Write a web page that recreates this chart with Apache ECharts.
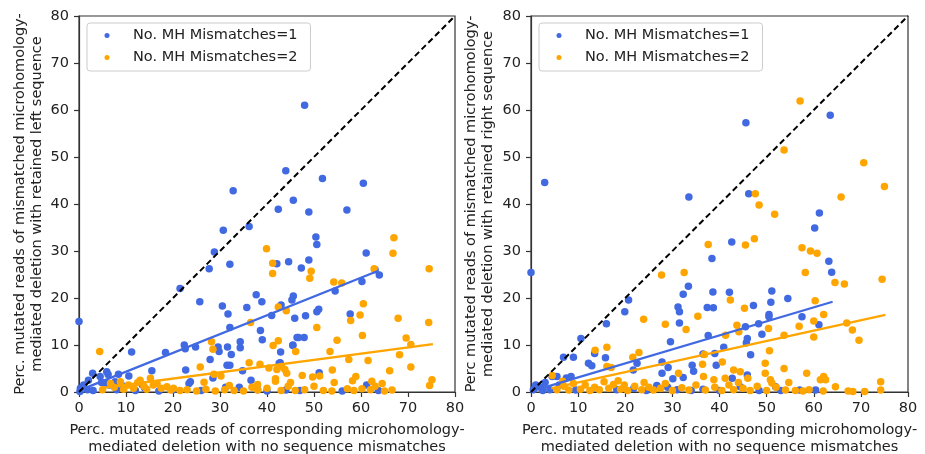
<!DOCTYPE html>
<html><head><meta charset="utf-8">
<script src="https://cdn.jsdelivr.net/npm/echarts@6/dist/echarts.min.js"></script>
<style>html,body{margin:0;padding:0;background:#fff}#c{width:925px;height:454px}</style>
</head><body><div id="c"></div>
<script>
const tickValues = [0, 10, 20, 30, 40, 50, 60, 70, 80];
const seriesNames = ['No. MH Mismatches=1', 'No. MH Mismatches=2'];
const xTitle = 'Perc. mutated reads of corresponding microhomology-\nmediated deletion with no sequence mismatches';
const yTitleLeft = 'Perc. mutated reads of mismatched microhomology-\nmediated deletion with retained left sequence';
const yTitleRight = 'Perc mutated reads of mismatched microhomology-\nmediated deletion with retained right sequence';

const leftBlue = [[0,15],[48,61],[44,47.1],[51.8,45.4],[60.5,44.4],[32.8,42.8],[45.6,40.8],[42.4,38.9],[57,38.7],[48.9,38.3],[30.7,34.4],[36.2,35.2],[50.4,33],[50.6,31.4],[28.8,29.8],[61.1,29.6],[27.7,26.2],[32.1,27.2],[42.1,27.3],[44.6,27.7],[47.3,26.4],[48.9,28.1],[21.5,22],[63.9,24.9],[63,26],[54.5,21.5],[60.2,23.5],[25.7,19.2],[37.7,20.7],[38.9,19.2],[30.5,18.3],[35.7,18],[31.7,16.6],[41,16.3],[43,18.5],[45.6,20.4],[45.3,19.6],[45.9,15.7],[48.2,16.2],[50.6,17.1],[51,17.6],[57.7,16.6],[38.6,13.1],[32.1,13.7],[39,11.1],[46.4,11.6],[47.9,11.6],[45.5,9.9],[42.9,8.5],[22.4,10],[22.6,9.2],[24.8,9.6],[18.4,8.4],[11.2,8.5],[29.6,9.6],[31.6,9.6],[29.8,8.6],[32.4,8],[34.3,10.7],[34.3,9.4],[27.9,6.9],[31.5,5.7],[32.1,5.7],[22.7,4.7],[34.8,4.5],[42.8,6.2],[42.6,6.1],[51.1,4.1],[15.5,4.5],[2.9,4],[5.9,4.3],[4.5,3.3],[6.2,3.7],[8.4,3.8],[10.6,3.4],[7.7,2.2],[5.6,1.9],[28.5,3],[36.6,2.5],[23.7,2.2],[23.4,1.8],[31.2,1],[34.1,1],[61.2,1.5],[63.7,0.3],[0.3,0.8],[1,1.5],[1.8,0.5],[3,0.3],[4.8,2],[6.5,1.5],[9.5,1.2],[8,0.5],[12,0.3],[14,0.8],[17,0.2],[20,0.5],[26,0.3],[38,0.5],[40,0.2],[44,0.4],[47,0.3],[56,0.2],[0.2,0.1],[2,2.5],[13.5,1.5],[45.5,10],[46.7,11.6]];
const leftOrange = [[4.4,8.6],[39.9,30.5],[41.2,27.4],[41.2,25.2],[67,32.8],[66.8,29.5],[74.5,26.2],[62.8,26.2],[49.4,25.7],[49.1,24.2],[54.2,23.4],[55.9,23.2],[42.4,18.1],[44.1,17.3],[60.5,18.8],[59.8,16.4],[67.9,15.7],[74.4,14.8],[57.8,15.2],[36.5,14.8],[50.6,13.7],[60.3,12],[54.9,11],[69.6,11.5],[70.6,10.1],[28.2,10.7],[28.5,9.1],[42.4,10.9],[41.3,9.9],[46.1,8.6],[53.4,8.6],[68.2,7.9],[57.4,6.9],[61.5,6.7],[36.2,6.2],[38.5,5.9],[25.8,5.3],[40.4,5.1],[42.1,4.8],[43.1,5.4],[43.8,4.8],[44.2,4],[53.9,4.7],[66.1,4.5],[70.6,5.3],[47.5,3.5],[49.7,3.2],[51.2,3.4],[58.2,2.4],[58.9,3.3],[62.3,2.3],[75.1,2.6],[74.6,1.4],[64.5,1.8],[66.6,0.4],[41.8,2.8],[41.8,2.3],[28.7,3.8],[30.2,3.4],[26.6,2.1],[54.3,2],[57.1,0.7],[60.2,0.7],[5,0.5],[6.7,1.8],[7.5,1],[8.8,2.2],[9.5,0.6],[10.5,1.5],[11.6,0.8],[12.5,2],[13,2.5],[13.8,1.2],[14.4,0.6],[15.2,2.9],[15.8,1.5],[16.6,1.8],[17.5,0.8],[18.7,1.1],[19.5,0.4],[20.1,0.8],[21.5,0.3],[23,0.5],[25,0.2],[27,0.6],[29,0.2],[31,0.5],[33,0.3],[35,0.2],[36.8,1],[38,0.4],[40,0.8],[43,0.3],[44.5,1.2],[46,0.3],[48,0.5],[50,1.2],[52,0.3],[53.8,0.2],[58.5,0.3],[62,0.5],[63,1.2],[65,0.2],[45,2],[38,1.6],[32,1.4]];
const leftFitBlue = [[0.2, 0.4], [63.7, 25.8]];
const leftFitOrange = [[4.5, 0.8], [75.3, 10.2]];

const rightBlue = [[0,25.4],[2.9,44.6],[45.6,57.3],[63.5,58.9],[33.5,41.5],[46.2,42.2],[61.2,38.1],[60.2,34.9],[42.6,31.9],[38.4,28.4],[63.2,27.8],[63.8,25.5],[33.4,22.5],[32.3,20.8],[20.7,19.6],[19.9,17.1],[38.6,21.3],[42.1,21.2],[51.1,21.5],[54.5,19.9],[50.9,19.1],[31.2,18.1],[31.5,17.1],[37.4,18],[38.7,17.9],[47.2,18.4],[50.5,16.5],[50.5,16],[57.5,16],[48.3,14.5],[45.5,13.9],[61.1,14.3],[16,14.5],[31.5,14.7],[49,12.3],[37.6,12],[45.9,11.4],[45.7,10.5],[29.6,10.7],[10.6,11.4],[6.9,7.4],[9,7.4],[12.2,6.1],[12.9,5.6],[13.5,8.2],[15.8,7.3],[22.5,6.1],[21.7,4.7],[27.8,6.4],[29.1,5.2],[34.2,5.7],[34.5,4.4],[36.5,8.1],[39,8.2],[39.3,5.7],[40.9,9.5],[46.6,7.9],[45.9,3.6],[42.7,2.9],[27.8,4],[30.1,2.8],[32.3,3.1],[26.7,1.4],[51.9,1.1],[60.4,0.4],[57,0.4],[44.4,1.1],[48.4,0.3],[0.5,0.5],[1,1.5],[2,1],[3,2],[4.5,3.3],[5.5,3.3],[7.5,3],[8.5,3.3],[6,1.5],[4,0.5],[2.5,0.3],[9.5,0.4],[18.2,0.5],[21.8,0.8],[24.5,0.3],[29,1],[31,0.5],[34,0.3],[36.5,0.6],[40,0.3],[53,0.3]];
const rightOrange = [[57.1,61.9],[53.7,51.5],[70.6,48.8],[75,43.7],[47.6,42.2],[48.4,39.8],[65.8,41.5],[51.7,37.8],[47.4,32.6],[45.5,31.3],[37.6,31.4],[57.5,30.7],[59.3,30],[60.7,29.5],[27.7,24.9],[32.5,25.4],[58.2,25.4],[64.5,23.3],[66.5,23],[74.5,24],[42.3,19.6],[60.3,19.4],[23.9,15.5],[28.5,14.4],[32.9,13.3],[35.4,16.1],[45.3,17.8],[43.7,14.2],[44.1,12.8],[41.3,12.1],[50.4,13.5],[53.7,12.1],[56.9,14],[60,15.1],[60,11.7],[62.1,16.5],[67,14.7],[68.2,13.2],[69.6,11],[13.6,8.9],[16.1,9.5],[21.6,7.4],[22.9,8.4],[16.1,5.4],[17,5.2],[36.8,8],[40.6,6.4],[50.6,8.8],[49.7,6.1],[53.7,5],[49.7,4],[58.5,4],[36.4,5.9],[31.3,4],[43,4.7],[44.4,4.3],[36.6,3.3],[38.8,2.6],[41.2,2.9],[46,2.9],[50.8,2.6],[51.1,1.9],[54.7,2],[61.4,2.6],[62.5,2.6],[62.1,3.3],[64.6,1.1],[74.2,2.2],[74.2,0.4],[70.8,0.1],[67.3,0.2],[68.3,0.1],[56.1,0.3],[57.7,0.2],[4.5,3.5],[6.7,2.3],[5.5,0.5],[7,1.2],[8,0.4],[9,1.8],[10.5,0.6],[11.5,1.5],[12.5,0.3],[13.5,1],[14.5,0.5],[15.5,2.2],[16.5,0.8],[17.5,1.6],[18.5,2.4],[19,0.6],[19.8,1.5],[20.5,0.3],[22,1.2],[23.5,0.5],[24,2],[25,1],[26,0.4],[27.5,0.8],[28.5,1.8],[30,0.3],[32,0.9],[33.5,0.4],[35,1.5],[37,0.4],[39,1],[40.5,0.3],[42,1.5],[43,0.5],[44,2],[45,0.8],[46.5,0.3],[48,1.2],[50,0.3],[52,1],[54,0.4],[59,0.5],[62,0.2]];
const rightFitBlue = [[0.2, 0.2], [64, 19.2]];
const rightFitOrange = [[4.3, 0.75], [75.2, 16.4]];
const diagonal = [[0, 0], [80, 80]];

const BLUE = '#4169E1', ORANGE = '#FFA500', TXT = '#222', FONT = 'DejaVu Sans', FS = 14.5;

function axis(grid, name, isY, gap) {
  return {
    type: 'value', gridIndex: grid, min: tickValues[0], max: tickValues[tickValues.length - 1], interval: tickValues[1] - tickValues[0],
    name: name, nameLocation: 'middle', nameGap: gap, nameRotate: isY ? 90 : 0,
    nameTextStyle: { color: TXT, fontFamily: FONT, fontSize: FS, lineHeight: 17 },
    axisLine: { show: true, onZero: false, lineStyle: { color: '#333', width: 1.2 } },
    axisTick: { show: true, inside: false, length: 5, lineStyle: { color: '#333', width: 1.2 } },
    axisLabel: { color: TXT, fontFamily: FONT, fontSize: FS, margin: isY ? 10 : 9 },
    splitLine: { show: false }
  };
}
function scatter(name, data, color, g) {
  return { type: 'scatter', name: name, data: data, xAxisIndex: g, yAxisIndex: g, symbolSize: 7.5, itemStyle: { color: color, opacity: 1 }, z: 2 };
}
function line(name, data, color, g, dashed) {
  return { type: 'line', name: name, data: data, xAxisIndex: g, yAxisIndex: g, symbol: 'none', z: 3,
    lineStyle: { color: color, width: dashed ? 2 : 2.3, type: dashed ? [6, 3.5] : 'solid' } };
}
function legend(left) {
  return {
    data: seriesNames.map(n => ({ name: n, icon: 'circle' })), orient: 'vertical', left: left, top: 23,
    itemWidth: 5, itemHeight: 5, itemGap: 5, padding: [4, 13, 5, 17.5],
    backgroundColor: 'rgba(255,255,255,0.85)', borderColor: '#cccccc', borderWidth: 1, borderRadius: 3,
    textStyle: { color: TXT, fontFamily: FONT, fontSize: FS, lineHeight: 17, padding: [0, 0, 0, 18.5] },
    selectedMode: false
  };
}
function grid(left, width) {
  return { left: left, top: 16, width: width, height: 376, show: true, borderColor: '#333', borderWidth: 1.2,
    backgroundColor: 'transparent', containLabel: false, outerBoundsMode: 'none' };
}

const chart = echarts.init(document.getElementById('c'), null, { renderer: 'canvas' });
chart.setOption({
  animation: false,
  textStyle: { fontFamily: FONT },
  grid: [grid(79, 376), grid(531, 377)],
  xAxis: [axis(0, xTitle, false, 29.5), axis(1, xTitle, false, 29.5)],
  yAxis: [axis(0, yTitleLeft, true, 33), axis(1, yTitleRight, true, 34)],
  legend: [legend(87), legend(539)],
  series: [
    scatter(seriesNames[0], leftBlue, BLUE, 0),
    scatter(seriesNames[1], leftOrange, ORANGE, 0),
    line(seriesNames[0], leftFitBlue, BLUE, 0, false),
    line(seriesNames[1], leftFitOrange, ORANGE, 0, false),
    line('diag', diagonal, '#000', 0, true),
    scatter(seriesNames[0], rightBlue, BLUE, 1),
    scatter(seriesNames[1], rightOrange, ORANGE, 1),
    line(seriesNames[0], rightFitBlue, BLUE, 1, false),
    line(seriesNames[1], rightFitOrange, ORANGE, 1, false),
    line('diag', diagonal, '#000', 1, true)
  ]
});
</script></body></html>
